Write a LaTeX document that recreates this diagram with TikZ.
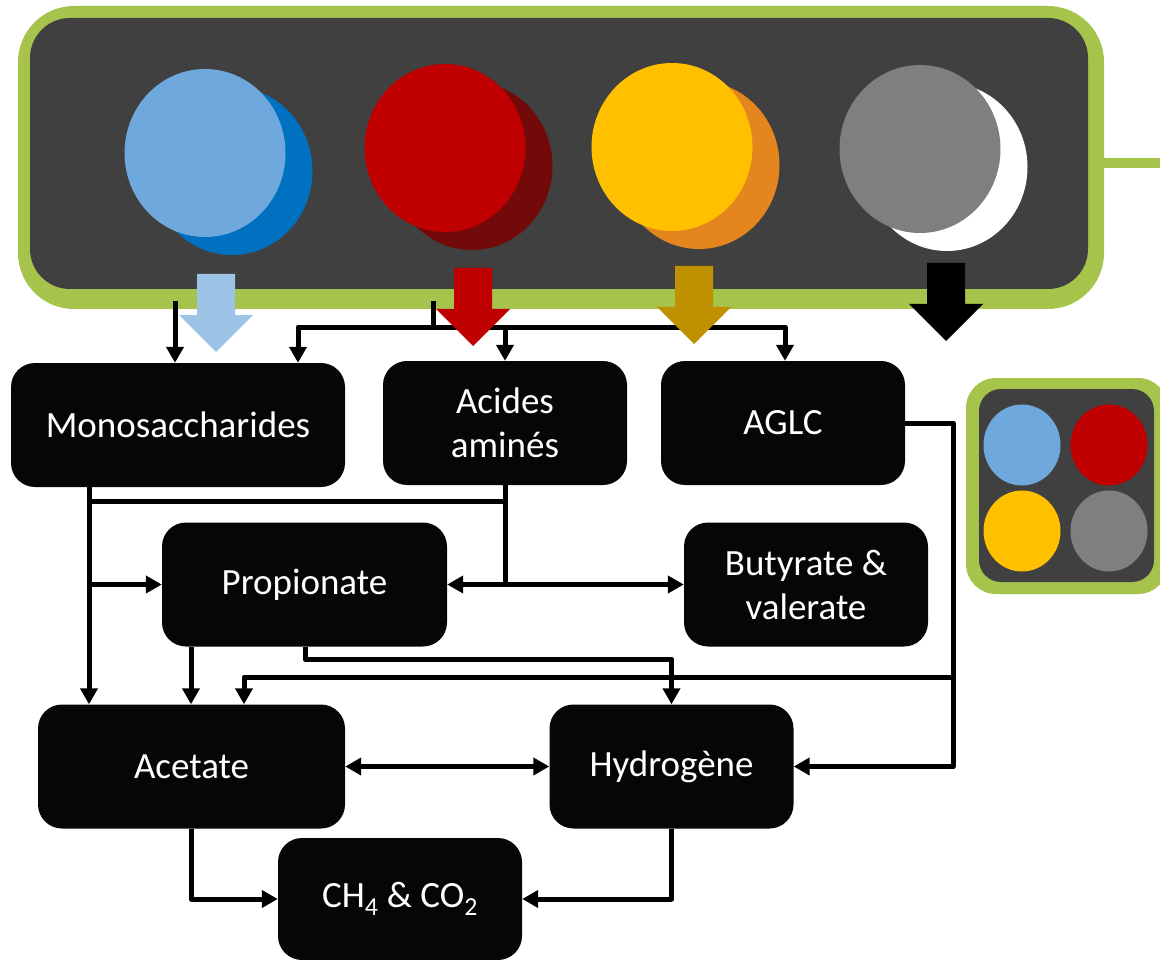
\documentclass[tikz,border=0pt]{standalone}
\usepackage{fontspec}
\setmainfont{Carlito}
\usepackage{tikz}
\usetikzlibrary{positioning,arrows.meta,calc}
\definecolor{framegreen}{HTML}{A6C34B}
\definecolor{panelgrey}{HTML}{404040}
\definecolor{boxblack}{HTML}{050608}
\definecolor{sugarlight}{HTML}{6FA8DC}
\definecolor{sugardark}{HTML}{0070C0}
\definecolor{protlight}{HTML}{C00000}
\definecolor{protdark}{HTML}{720A0A}
\definecolor{lipidlight}{HTML}{FFC000}
\definecolor{lipiddark}{HTML}{E5851E}
\definecolor{inertlight}{HTML}{7F7F7F}
\definecolor{arrowblue}{HTML}{9DC3E6}
\definecolor{arrowochre}{HTML}{BF9000}
\tikzset{
  flowline/.style={line width=5pt, line join=round},
  flowarrow/.style={flowline, -{Triangle[length=16pt,width=17pt]}},
  twoway/.style={flowline, {Triangle[length=16pt,width=17pt]}-{Triangle[length=16pt,width=17pt]}},
  stagebox/.style={fill=boxblack, rounded corners=24pt, text=white, align=center, inner sep=0pt, minimum width=244pt, minimum height=124pt, font=\fontsize{37}{44}\selectfont}
}

\begin{document}
\begin{tikzpicture}[x=1pt, y=-1pt]
  \useasboundingbox (0,0) rectangle (1160,960);
  \clip (0,0) rectangle (1160,960);
  % substrate panel
  \fill[framegreen] (1100,158) rectangle (1170,168);
  \fill[framegreen, rounded corners=56pt] (18,6) rectangle (1104,309);
  \fill[panelgrey, rounded corners=40pt] (30,18) rectangle (1088,289);
  \foreach \cx/\cy/\back/\front in {205/153/sugardark/sugarlight, 445/148/protdark/protlight, 672/147/lipiddark/lipidlight, 920/149/white/inertlight}
  {
    \fill[\back] (\cx+27,\cy+18) ellipse [x radius=80.5, y radius=84];
    \fill[\front] (\cx,\cy) ellipse [x radius=80.5, y radius=84];
  }
  % legend
  \fill[framegreen, rounded corners=30pt] (966,378) rectangle (1168,594);
  \fill[panelgrey, rounded corners=22pt] (979,389) rectangle (1154,582);
  \foreach \cx/\cy/\col in {1022/445/sugarlight, 1109/445/protlight, 1022/531/lipidlight, 1109/531/inertlight}
    \fill[\col] (\cx,\cy) ellipse [x radius=38.5, y radius=40.5];

  % stages
  \node[stagebox, minimum width=334pt] (mono) at (178,425) {Monosaccharides};
  \node[stagebox] (acides) at (505,423) {Acides\\amin\'es};
  \node[stagebox] (aglc) at (783,423) {AGLC};
  \node[stagebox, minimum width=285pt] (prop) at (304.5,584.5) {Propionate};
  \node[stagebox] (buty) at (806,584.5) {Butyrate \&\\valerate};
  \node[stagebox, minimum width=307pt] (acet) at (191.5,766.5) {Acetate};
  \node[stagebox] (hydro) at (671.5,766.5) {Hydrog\`ene};
  \node[stagebox, minimum height=122pt] (gas) at (400,899) {CH\textsubscript{4} \& CO\textsubscript{2}};

  % connectors
  \coordinate (feedA) at (175,301);
  \coordinate (feedB) at (433,301);
  \coordinate (busL) at (298,327);
  \coordinate (busR) at (785,327);
  \coordinate (xm) at (89,0);
  \coordinate (xp) at (191,0);
  \coordinate (xq) at (305,0);
  \coordinate (xr) at (244,0);
  \coordinate (xg) at (953,0);
  \coordinate (ymid) at (0,501);
  \coordinate (yph) at (0,659);
  \coordinate (yag) at (0,677);
  \draw[flowarrow] (feedA) -- (feedA |- mono.north);
  \draw[flowline] (feedB) -- (feedB |- busL);
  \draw[twoway] (busL |- mono.north) -- (busL) -- (busR) -- (busR |- aglc.north);
  \draw[flowarrow] (acides.north |- busL) -- (acides.north);
  \draw[flowarrow] (xm |- mono.south) -- (xm |- acet.north);
  \draw[flowline] (xm |- ymid) -- (acides.south |- ymid);
  \draw[flowline] (acides.south) -- (acides.south |- prop.east);
  \draw[twoway] (prop.east) -- (buty.west);
  \draw[flowarrow] (xm |- prop.west) -- (prop.west);
  \draw[flowarrow] (xp |- prop.south) -- (xp |- acet.north);
  \draw[flowarrow] (xq |- prop.south) -- (xq |- yph) -| (hydro.north);
  \draw[flowarrow] (aglc.east) -| (xg |- hydro.east) -- (hydro.east);
  \draw[flowarrow] (xg |- yag) -| (xr |- acet.north);
  \draw[twoway] (acet.east) -- (hydro.west);
  \draw[flowarrow] (xp |- acet.south) |- (gas.west);
  \draw[flowarrow] (hydro.south) |- (gas.east);

  % block arrows
  \foreach \cx/\top/\col in {216/274/arrowblue, 473/268/protlight, 694/266/arrowochre, 946/263/black}
    \fill[\col] (\cx-19,\top) -- (\cx+19,\top) -- (\cx+19,\top+41) -- (\cx+37,\top+41)
      -- (\cx,\top+78) -- (\cx-37,\top+41) -- (\cx-19,\top+41) -- cycle;
\end{tikzpicture}
\end{document}
